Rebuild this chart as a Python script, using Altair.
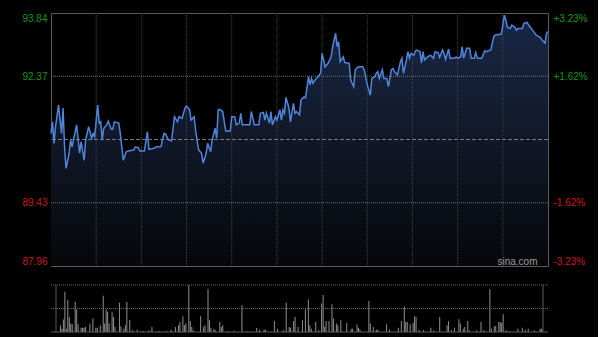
import altair as alt
import pandas as pd

# ---------------- data ----------------
prev_close = 90.90
y_ticks = [87.96, 89.43, 92.37, 93.84]

price_t = [0, 1, 2, 3, 5, 7, 8, 9, 10, 12, 13, 14, 17, 19, 20, 22, 23, 25, 27, 28,
           29, 31, 32, 33, 34, 35, 37, 38, 40, 41, 42, 45, 46, 48, 50, 55, 56, 58, 59, 62,
           64, 65, 69, 70, 73, 75, 76, 78, 80, 82,
           84, 85, 87, 89, 90, 92, 93, 95, 96, 98, 100, 101, 103, 104, 106, 107, 109, 110, 111, 112,
           114, 116, 119, 120, 122, 123, 125, 126, 127, 132, 133, 135, 138, 139, 141, 142, 143, 145, 146, 147,
           149, 150, 152, 153, 154, 155, 156, 158, 159, 161, 162, 163,
           165, 166, 168, 169, 171, 172, 173, 174, 176, 177, 179, 180, 181, 182, 184, 186, 187, 189, 190, 191,
           192, 194, 195, 198, 199, 201, 202, 204, 207, 208, 210, 212, 213, 215, 216, 217, 218, 220, 221, 223,
           224, 226, 227, 228, 230, 232, 233, 234, 236, 237, 238, 239, 241, 242,
           243, 245, 246, 247, 248, 250, 252, 254, 255, 257, 258, 260, 261, 262, 264, 265, 268, 269, 270, 272,
           273, 274, 276, 278, 279, 281, 282, 283, 286, 288, 289, 292, 294, 295, 299, 300, 301, 302, 303, 305,
           306, 308, 309, 310, 313, 314, 316, 318, 320, 322, 323, 325, 326, 328, 329, 330]

price_v = [91.04, 91.31, 90.81, 91.20, 91.70, 91.04, 91.63, 90.73, 90.23, 90.58, 90.89, 90.73, 91.24, 90.58, 90.85, 90.42, 90.89, 91.20, 90.93, 91.04,
           90.97, 91.70, 91.28, 91.31, 90.89, 91.16, 91.24, 91.33, 91.14, 91.14, 91.31, 91.28, 91.04, 90.42, 90.62, 90.66, 90.73, 90.71, 90.63, 90.63,
           91.08, 90.67, 90.70, 90.73, 90.73, 91.04, 91.03, 90.89, 90.87, 91.43,
           91.31, 91.43, 91.39, 91.63, 91.68, 91.59, 91.35, 91.43, 91.12, 90.66, 90.58, 90.35, 90.58, 90.81, 90.62, 90.89, 91.16, 90.93, 91.59, 91.60,
           91.55, 91.10, 91.10, 91.43, 91.43, 91.24, 91.28, 91.51, 91.24, 91.24, 91.55, 91.24, 91.24, 91.51, 91.53, 91.35, 91.51, 91.28, 91.55, 91.24,
           91.43, 91.35, 91.59, 91.35, 91.59, 91.51, 91.88, 91.63, 91.31, 91.74, 91.51, 91.55,
           91.47, 91.82, 91.89, 91.87, 92.36, 92.17, 92.32, 92.21, 92.32, 92.35, 92.44, 92.90, 92.75, 92.59, 92.67, 92.82, 93.06, 93.37, 93.06, 93.17,
           92.71, 92.82, 92.69, 92.67, 92.28, 92.13, 92.52, 92.59, 92.59, 92.52, 92.17, 91.93, 92.32, 92.36, 92.44, 92.48, 92.32, 92.52, 92.32, 92.32,
           92.13, 92.52, 92.55, 92.48, 92.40, 92.71, 92.79, 92.44, 92.75, 92.94, 92.79, 92.90, 92.86, 92.96,
           92.98, 92.94, 92.68, 92.94, 92.75, 92.82, 92.86, 92.79, 92.94, 92.92, 92.81, 92.98, 92.90, 92.76, 93.00, 92.79, 92.79, 92.82, 92.79, 92.82,
           93.06, 92.79, 93.02, 93.02, 92.79, 92.79, 92.92, 92.79, 92.79, 92.96, 92.94, 92.98, 93.29, 93.33, 93.35, 93.56, 93.79, 93.68, 93.51, 93.48,
           93.56, 93.51, 93.44, 93.48, 93.48, 93.60, 93.62, 93.52, 93.43, 93.33, 93.31, 93.27, 93.21, 93.14, 93.37, 93.41]

vol_t = [3, 4, 5, 6, 7, 8, 9, 10, 11, 13, 14, 15, 17, 18, 19, 20, 23, 25, 27, 28,
         30, 32, 33, 34, 35, 36, 38, 39, 40, 43, 44, 46, 47, 48, 50, 52, 55, 59, 63, 65,
         70, 75, 78, 81, 83, 84, 86, 87, 88, 90, 91, 92, 93, 98, 100, 101, 103, 104, 105, 107,
         108, 111, 112, 113, 117, 121, 126, 130, 136, 138, 141, 142, 148, 150, 154, 156, 158, 159, 161, 162,
         164,
         167, 169, 171, 172, 173, 176, 178, 180, 181, 182, 183, 185, 187, 188, 190, 191, 193, 197, 200, 201,
         204, 205, 206, 212, 213, 215, 217, 218, 224, 226, 232, 234, 236, 237, 238, 240, 242, 243, 244, 246,
         249, 254, 256, 260, 265, 266, 268, 270, 273, 274, 276, 277, 279, 280, 285, 288, 290, 294, 295, 297,
         298, 300, 301, 302, 303, 305, 307, 313, 316, 318, 320, 324, 328, 329]

vol_v = [20, 10, 37, 120, 10, 95, 45, 25, 23, 90, 67, 23, 13, 13, 13, 15, 25, 40, 13, 13,
         20, 108, 25, 67, 60, 25, 60, 45, 15, 87, 17, 10, 20, 89, 35, 5, 7, 3, 5, 15,
         3, 3, 7, 15, 20, 30, 47, 20, 25, 140, 33, 15, 5, 47, 15, 20, 128, 35, 13, 10,
         5, 30, 15, 20, 3, 3, 80, 3, 12, 7, 7, 7, 33, 10, 5, 88, 15, 13, 33, 45,
         15,
         35, 67, 97, 20, 10, 30, 5, 85, 110, 15, 33, 33, 83, 40, 25, 20, 35, 27, 10, 10,
         22, 13, 7, 92, 25, 15, 7, 7, 23, 7, 13, 33, 75, 30, 30, 23, 27, 47, 45, 7,
         5, 13, 5, 45, 20, 32, 5, 13, 38, 25, 10, 15, 33, 5, 5, 30, 5, 128, 10, 17,
         17, 30, 30, 27, 53, 5, 3, 10, 13, 7, 10, 5, 10, 10]

time_grid = [30, 60, 90, 120, 150, 180, 210, 240, 270, 300]
price_grid = [92.37, 89.43]
vol_grid = [140, 70]

assert len(price_t) == len(price_v)
assert len(vol_t) == len(vol_v)

price_df = pd.DataFrame({"t": price_t, "price": price_v})
vol_df = pd.DataFrame({"t": vol_t, "v": vol_v})
tgrid_df = pd.DataFrame({"t": time_grid})
pgrid_df = pd.DataFrame({"price": price_grid})
center_df = pd.DataFrame({"price": [prev_close]})
sina_df = pd.DataFrame({"t": [323], "price": [87.96], "label": ["sina.com"]})
vgrid_df = pd.DataFrame({"v": vol_grid})
vedge_df = pd.DataFrame({"t": [0, 330]})
vbase_df = pd.DataFrame({"v": [0]})

FONT = "Liberation Sans"
GREEN = "#109810"
RED = "#c81a1a"

xs = alt.Scale(domain=[0, 330], nice=False, zero=False)
ys = alt.Scale(domain=[87.96, 93.84], nice=False, zero=False)

left_axis = alt.Axis(
    orient="left", values=y_ticks, format=".2f", grid=False, ticks=False, domain=False,
    labelFlush=True, labelPadding=4, labelFontSize=10, labelFont=FONT,
    labelColor={"condition": {"test": f"datum.value > {prev_close}", "value": GREEN}, "value": RED},
)
right_axis = alt.Axis(
    orient="right", values=y_ticks, grid=False, ticks=False, domain=False,
    labelFlush=True, labelPadding=5, labelFontSize=10, labelFont=FONT,
    labelExpr=f"(datum.value > {prev_close} ? '+' : '-') + format(abs(datum.value - {prev_close}) / {prev_close} * 100, '.2f') + '%'",
    labelColor={"condition": {"test": f"datum.value > {prev_close}", "value": GREEN}, "value": RED},
)


def X():
    return alt.X("t:Q", scale=xs, axis=None)


def Y(field="price:Q"):
    return alt.Y(field, scale=ys, axis=left_axis, title=None)


grad = alt.Gradient(
    gradient="linear",
    stops=[alt.GradientStop(color="#1a2846", offset=0), alt.GradientStop(color="#06070a", offset=1)],
    x1=0, x2=0, y1=0, y2=1,
)

area = alt.Chart(price_df).mark_area(color=grad).encode(x=X(), y=Y(), y2=alt.Y2Datum(87.96))
tgrid = alt.Chart(tgrid_df).mark_rule(color="#444444", strokeDash=[1, 1], strokeWidth=1).encode(x=X())
pgrid = alt.Chart(pgrid_df).mark_rule(color="#707070", strokeDash=[1, 1], strokeWidth=1).encode(y=Y())
center = alt.Chart(center_df).mark_rule(color="#7a7a7a", strokeDash=[4, 2], strokeWidth=1).encode(y=Y())
line = alt.Chart(price_df).mark_line(color="#4f86dc", strokeWidth=1.5).encode(x=X(), y=Y())
sina = alt.Chart(sina_df).mark_text(
    align="right", baseline="alphabetic", dy=-1, color="#9a9a9a", fontSize=10, font=FONT
).encode(x=X(), y=Y(), text="label:N")

inner = alt.layer(area, tgrid, pgrid, center, line, sina)
right = alt.Chart(price_df).mark_line(opacity=0).encode(
    x=X(), y=alt.Y("price:Q", scale=ys, axis=right_axis, title=None)
)
price_chart = alt.layer(inner, right).resolve_scale(y="independent").properties(
    width=497, height=253, view=alt.ViewBackground(stroke="#5a5a5a", strokeWidth=1)
)

vys = alt.Scale(domain=[0, 140], nice=False, zero=True)


def VY(field):
    return alt.Y(field, scale=vys, axis=None, title=None)


bars = alt.Chart(vol_df).mark_bar(size=1, color="#8f8f8f").encode(x=X(), y=VY("v:Q"))
vgrid = alt.Chart(vgrid_df).mark_rule(color="#6a6a6a", strokeDash=[1, 1]).encode(y=VY("v:Q"))
vedge = alt.Chart(vedge_df).mark_rule(color="#5a5a5a").encode(x=X())
vbase = alt.Chart(vbase_df).mark_rule(color="#5a5a5a").encode(y=VY("v:Q"))
vol_chart = alt.layer(bars, vgrid, vedge, vbase).properties(
    width=497, height=47, view=alt.ViewBackground(stroke="transparent")
)

chart = alt.vconcat(price_chart, vol_chart, spacing=19, bounds="flush").properties(
    background="#000000",
    padding={"left": 21, "top": 11, "right": 10, "bottom": 5},
).configure_view(stroke="transparent")

chart.save("out.html", embed_options={"renderer": "svg", "actions": False})
